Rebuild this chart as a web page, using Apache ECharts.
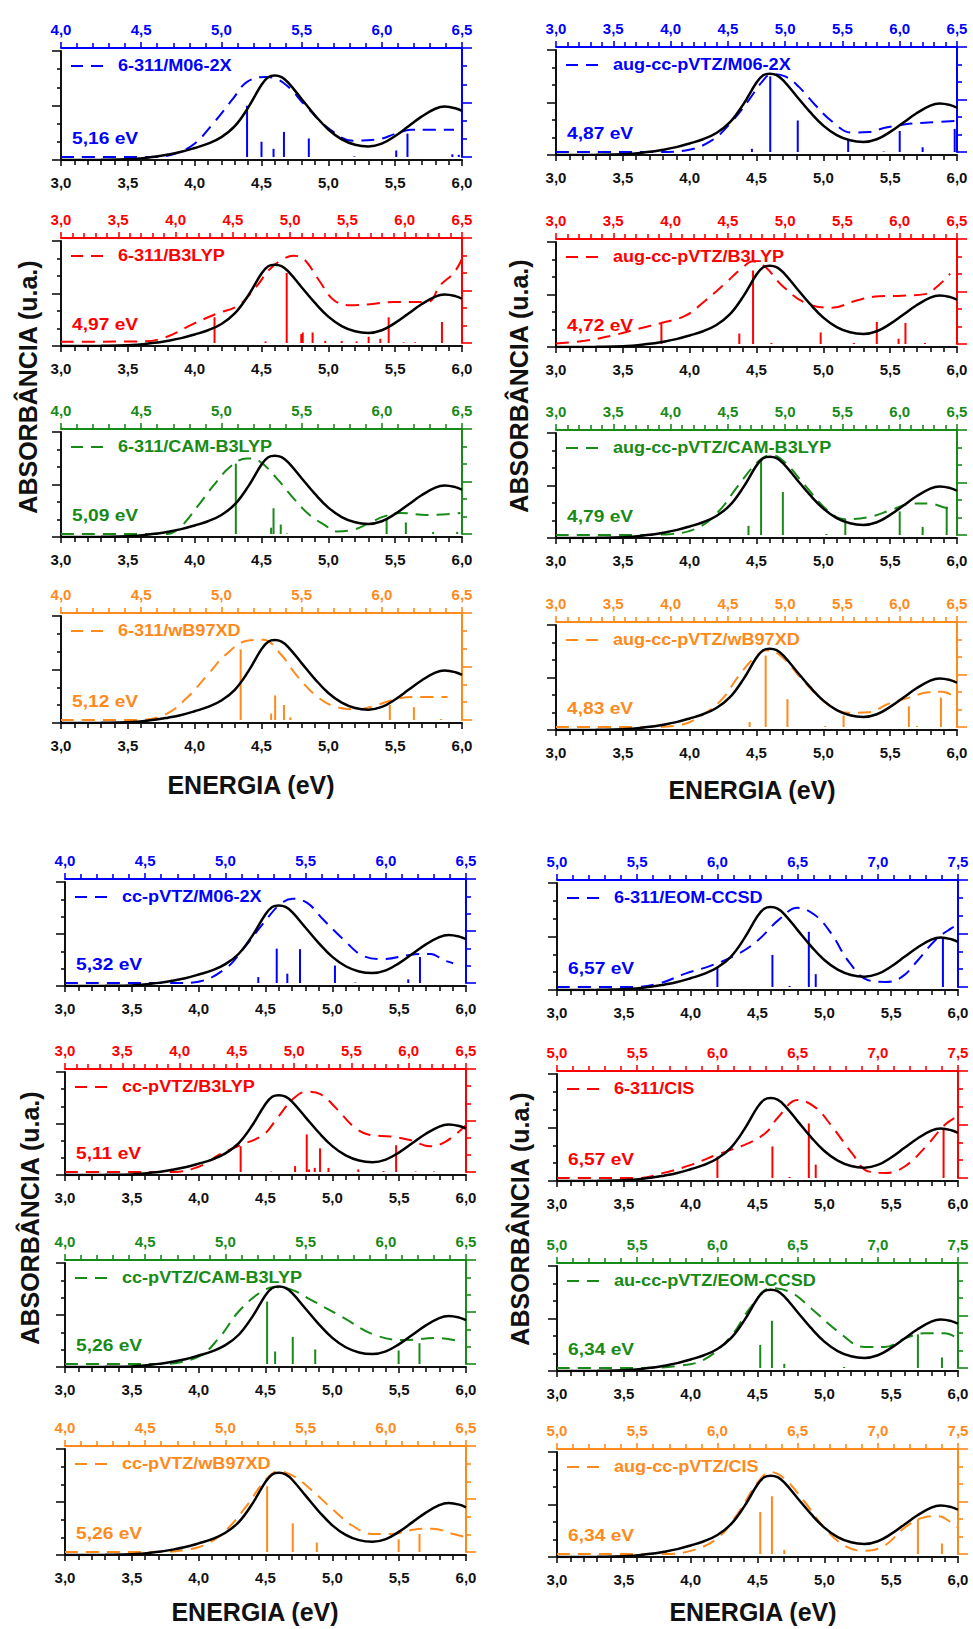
<!DOCTYPE html>
<html>
<head>
<meta charset="utf-8">
<title>Espectros de absorção</title>
<script src="https://cdn.jsdelivr.net/npm/echarts@6/dist/echarts.min.js"></script>
<style>
  html, body { margin: 0; padding: 0; background: #ffffff; }
  #chart { width: 973px; height: 1629px; }
</style>
</head>
<body>
<div id="chart"></div>
<script>
// ---------------------------------------------------------------
// Experimental spectrum (bottom energy axis, eV) — normalised absorbance
// ---------------------------------------------------------------
const EXP_ENERGY = [3.0, 3.3, 3.5, 3.7, 3.8, 3.9, 4.0, 4.1, 4.2, 4.3, 4.4, 4.5, 4.55, 4.6, 4.65, 4.7, 4.8, 4.9, 5.0, 5.1, 5.2, 5.3, 5.4, 5.5, 5.6, 5.7, 5.8, 5.87, 5.95, 6.0];
const EXP_ABS    = [0.0, 0.002, 0.006, 0.03, 0.05, 0.075, 0.11, 0.15, 0.21, 0.31, 0.48, 0.69, 0.76, 0.775, 0.76, 0.71, 0.56, 0.41, 0.28, 0.19, 0.14, 0.125, 0.15, 0.22, 0.31, 0.40, 0.47, 0.49, 0.475, 0.45];

// Energy range of the bottom (experimental) axis
const BOTTOM_RANGE = [3.0, 6.0];

// Energy ranges of the top (calculated) axes
const TOP_RANGE_3 = [3.0, 6.5];
const TOP_RANGE_4 = [4.0, 6.5];
const TOP_RANGE_5 = [5.0, 7.5];

// ---------------------------------------------------------------
// Calculated spectra: broadened curve [E, A] and oscillator sticks [E, f]
// (energies in the units of each panel's top axis)
// ---------------------------------------------------------------
const CURVE_6311_M062X = [[4.0,0],[4.55,0],[4.70,0.025],[4.83,0.12],[4.95,0.31],[5.075,0.54],[5.16,0.69],[5.28,0.735],[5.39,0.677],[5.53,0.46],[5.68,0.25],[5.82,0.15],[5.97,0.16],[6.09,0.215],[6.18,0.25],[6.26,0.25],[6.45,0.25]];
const STICKS_6311_M062X = [[5.16,0.47],[5.25,0.14],[5.325,0.075],[5.39,0.23],[5.545,0.17],[5.83,0.006],[6.09,0.06],[6.16,0.215],[6.44,0.025],[6.48,0.02]];

const CURVE_6311_B3LYP = [[3.0,0.012],[3.7,0.015],[3.9,0.05],[4.15,0.18],[4.36,0.28],[4.55,0.36],[4.7,0.53],[4.82,0.7],[4.94,0.8],[5.03,0.83],[5.12,0.8],[5.25,0.6],[5.38,0.41],[5.52,0.36],[5.7,0.37],[5.9,0.39],[6.2,0.39],[6.31,0.55],[6.43,0.67],[6.5,0.8]];
const STICKS_6311_B3LYP = [[4.34,0.245],[4.785,0.015],[4.97,0.667],[5.097,0.085],[5.11,0.1],[5.196,0.1],[5.306,0.02],[5.45,0.02],[5.58,0.015],[5.685,0.06],[5.787,0.04],[5.86,0.245],[5.99,0.006],[6.09,0.006],[6.325,0.2]];

const CURVE_6311_CAMB3LYP = [[4.0,0],[4.66,0],[4.74,0.06],[4.85,0.26],[4.95,0.46],[5.055,0.64],[5.16,0.72],[5.24,0.69],[5.345,0.53],[5.45,0.34],[5.55,0.18],[5.64,0.09],[5.72,0.025],[5.82,0.04],[5.91,0.095],[6.01,0.165],[6.115,0.2],[6.28,0.18],[6.49,0.2]];
const STICKS_6311_CAMB3LYP = [[5.09,0.67],[5.31,0.06],[5.325,0.245],[5.37,0.09],[5.41,0.005],[6.03,0.135],[6.15,0.11],[6.32,0.02],[6.47,0.02]];

const CURVE_6311_WB97XD = [[4.0,0],[4.49,0],[4.66,0.06],[4.78,0.2],[4.91,0.415],[5.03,0.615],[5.16,0.74],[5.26,0.75],[5.37,0.615],[5.47,0.415],[5.6,0.215],[5.72,0.12],[5.85,0.1],[5.97,0.14],[6.1,0.2],[6.22,0.215],[6.41,0.215]];
const STICKS_6311_WB97XD = [[5.12,0.66],[5.31,0.06],[5.335,0.23],[5.39,0.14],[5.43,0.025],[6.05,0.14],[6.2,0.12],[6.37,0.01]];

const CURVE_AUG_M062X = [[3.0,0],[3.89,0],[4.13,0.015],[4.36,0.11],[4.535,0.29],[4.68,0.49],[4.80,0.67],[4.88,0.74],[5.0,0.72],[5.12,0.62],[5.26,0.45],[5.41,0.29],[5.58,0.185],[5.73,0.19],[5.87,0.23],[6.05,0.265],[6.25,0.28],[6.49,0.295]];
const STICKS_AUG_M062X = [[4.71,0.03],[4.87,0.72],[5.11,0.3],[5.55,0.12],[5.86,0.005],[6.0,0.2],[6.2,0.045],[6.48,0.22]];

const CURVE_AUG_B3LYP = [[3.0,0.005],[3.25,0.03],[3.49,0.08],[3.72,0.145],[3.92,0.2],[4.13,0.27],[4.3,0.41],[4.48,0.58],[4.62,0.72],[4.72,0.787],[4.83,0.73],[4.97,0.56],[5.18,0.39],[5.41,0.345],[5.61,0.41],[5.82,0.455],[6.02,0.46],[6.22,0.475],[6.34,0.56],[6.44,0.67]];
const STICKS_AUG_B3LYP = [[3.92,0.19],[4.6,0.1],[4.72,0.7],[4.88,0.01],[5.31,0.11],[5.6,0.01],[5.8,0.21],[5.99,0.05],[6.05,0.2],[6.22,0.01]];

const CURVE_AUG_CAMB3LYP = [[3.0,0],[3.69,0],[4.01,0.01],[4.24,0.07],[4.42,0.225],[4.59,0.47],[4.77,0.705],[4.88,0.76],[5.0,0.69],[5.175,0.47],[5.38,0.225],[5.525,0.15],[5.73,0.17],[5.93,0.24],[6.11,0.3],[6.25,0.3],[6.4,0.26],[6.49,0.24]];
const STICKS_AUG_CAMB3LYP = [[4.68,0.087],[4.79,0.72],[4.98,0.41],[5.36,0.01],[5.525,0.15],[6.0,0.225],[6.2,0.077],[6.41,0.27]];

const CURVE_AUG_WB97XD = [[3.0,0],[3.84,0],[4.07,0.015],[4.27,0.11],[4.45,0.265],[4.59,0.48],[4.74,0.67],[4.84,0.73],[4.97,0.67],[5.15,0.45],[5.35,0.235],[5.55,0.135],[5.73,0.14],[5.9,0.22],[6.08,0.28],[6.25,0.33],[6.37,0.335],[6.49,0.28]];
const STICKS_AUG_WB97XD = [[4.69,0.047],[4.83,0.68],[5.02,0.265],[5.35,0.01],[5.51,0.11],[6.08,0.197],[6.15,0.01],[6.36,0.28]];

const CURVE_CC_M062X = [[4.0,0],[4.72,0],[4.84,0.015],[5.01,0.15],[5.11,0.325],[5.24,0.58],[5.34,0.755],[5.42,0.81],[5.51,0.77],[5.61,0.61],[5.735,0.42],[5.86,0.26],[5.985,0.23],[6.15,0.27],[6.28,0.28],[6.36,0.22],[6.42,0.19]];
const STICKS_CC_M062X = [[5.205,0.057],[5.32,0.33],[5.386,0.09],[5.465,0.325],[5.683,0.168],[5.81,0.005],[6.14,0.035],[6.213,0.25]];

const CURVE_CC_B3LYP = [[3.0,0],[3.6,0],[3.95,0.0],[4.18,0.057],[4.35,0.17],[4.53,0.26],[4.73,0.36],[4.85,0.52],[4.99,0.71],[5.11,0.78],[5.23,0.755],[5.37,0.615],[5.52,0.44],[5.66,0.36],[5.84,0.345],[6.01,0.31],[6.19,0.25],[6.33,0.3],[6.5,0.455]];
const STICKS_CC_B3LYP = [[4.533,0.25],[4.8,0.005],[5.008,0.057],[5.11,0.365],[5.13,0.025],[5.18,0.04],[5.226,0.23],[5.3,0.04],[5.56,0.025],[5.78,0.01],[5.89,0.26],[6.06,0.005],[6.22,0.005]];

const CURVE_CC_CAMB3LYP = [[4.0,0],[4.58,0],[4.83,0.07],[4.96,0.25],[5.08,0.5],[5.21,0.68],[5.31,0.74],[5.42,0.71],[5.53,0.62],[5.73,0.45],[5.93,0.28],[6.12,0.23],[6.32,0.25],[6.48,0.21]];
const STICKS_CC_CAMB3LYP = [[5.26,0.6],[5.31,0.12],[5.42,0.26],[5.56,0.14],[6.08,0.13],[6.21,0.2]];

const CURVE_CC_WB97XD = [[4.0,0],[4.58,0],[4.75,0.02],[4.875,0.07],[5.0,0.2],[5.125,0.42],[5.25,0.68],[5.33,0.76],[5.42,0.72],[5.54,0.58],[5.67,0.4],[5.79,0.25],[5.92,0.17],[6.04,0.17],[6.17,0.21],[6.29,0.22],[6.42,0.17],[6.5,0.14]];
const STICKS_CC_WB97XD = [[5.26,0.62],[5.42,0.27],[5.57,0.09],[6.08,0.12],[6.21,0.17]];

const CURVE_6311_EOMCCSD = [[5.0,0],[5.46,0],[5.63,0.03],[5.8,0.125],[5.96,0.2],[6.13,0.31],[6.255,0.44],[6.38,0.625],[6.5,0.74],[6.61,0.67],[6.71,0.5],[6.82,0.235],[6.94,0.063],[7.05,0.047],[7.15,0.094],[7.25,0.25],[7.36,0.44],[7.46,0.55],[7.5,0.58]];
const STICKS_6311_EOMCCSD = [[6.0,0.19],[6.343,0.3],[6.45,0.01],[6.57,0.516],[6.613,0.12],[7.406,0.45]];

const CURVE_6311_CIS = [[5.0,0],[5.5,0],[5.67,0.05],[5.84,0.125],[6.0,0.22],[6.17,0.31],[6.3,0.42],[6.38,0.57],[6.5,0.73],[6.61,0.66],[6.71,0.49],[6.84,0.23],[6.94,0.062],[7.05,0.047],[7.17,0.11],[7.3,0.295],[7.42,0.5],[7.5,0.58]];
const STICKS_6311_CIS = [[6.0,0.2],[6.343,0.295],[6.45,0.01],[6.57,0.51],[6.613,0.125],[7.41,0.465]];

const CURVE_AUG_EOMCCSD = [[5.0,0],[5.5,0],[5.75,0.02],[5.917,0.08],[6.083,0.3],[6.208,0.58],[6.333,0.76],[6.458,0.72],[6.583,0.57],[6.75,0.35],[6.917,0.2],[7.042,0.2],[7.167,0.28],[7.292,0.33],[7.417,0.33],[7.5,0.28]];
const STICKS_AUG_EOMCCSD = [[6.267,0.22],[6.34,0.45],[6.417,0.04],[6.79,0.01],[7.25,0.32],[7.4,0.1]];

const CURVE_AUG_CIS = [[5.0,0],[5.667,0],[5.833,0.03],[6.0,0.15],[6.125,0.38],[6.25,0.68],[6.333,0.78],[6.417,0.72],[6.542,0.5],[6.667,0.25],[6.792,0.08],[6.917,0.03],[7.042,0.08],[7.167,0.25],[7.292,0.35],[7.375,0.36],[7.458,0.3],[7.5,0.25]];
const STICKS_AUG_CIS = [[6.267,0.4],[6.34,0.55],[6.417,0.04],[7.25,0.33],[7.4,0.1]];

// ---------------------------------------------------------------
// Colours
// ---------------------------------------------------------------
const BLUE = '#0000ff';
const RED = '#ff0000';
const GREEN = '#178a17';
const ORANGE = '#ff8a1c';
const INK = '#111111';
const FAMILY = 'Liberation Sans';

// Panels: method label, top-axis range, colour, data
const PANELS = [
  { label: '6-311/M06-2X',          range: TOP_RANGE_4, color: BLUE,   curve: CURVE_6311_M062X,    sticks: STICKS_6311_M062X },
  { label: '6-311/B3LYP',           range: TOP_RANGE_3, color: RED,    curve: CURVE_6311_B3LYP,    sticks: STICKS_6311_B3LYP },
  { label: '6-311/CAM-B3LYP',       range: TOP_RANGE_4, color: GREEN,  curve: CURVE_6311_CAMB3LYP, sticks: STICKS_6311_CAMB3LYP },
  { label: '6-311/wB97XD',          range: TOP_RANGE_4, color: ORANGE, curve: CURVE_6311_WB97XD,   sticks: STICKS_6311_WB97XD },
  { label: 'aug-cc-pVTZ/M06-2X',    range: TOP_RANGE_3, color: BLUE,   curve: CURVE_AUG_M062X,     sticks: STICKS_AUG_M062X },
  { label: 'aug-cc-pVTZ/B3LYP',     range: TOP_RANGE_3, color: RED,    curve: CURVE_AUG_B3LYP,     sticks: STICKS_AUG_B3LYP },
  { label: 'aug-cc-pVTZ/CAM-B3LYP', range: TOP_RANGE_3, color: GREEN,  curve: CURVE_AUG_CAMB3LYP,  sticks: STICKS_AUG_CAMB3LYP },
  { label: 'aug-cc-pVTZ/wB97XD',    range: TOP_RANGE_3, color: ORANGE, curve: CURVE_AUG_WB97XD,    sticks: STICKS_AUG_WB97XD },
  { label: 'cc-pVTZ/M06-2X',        range: TOP_RANGE_4, color: BLUE,   curve: CURVE_CC_M062X,      sticks: STICKS_CC_M062X },
  { label: 'cc-pVTZ/B3LYP',         range: TOP_RANGE_3, color: RED,    curve: CURVE_CC_B3LYP,      sticks: STICKS_CC_B3LYP },
  { label: 'cc-pVTZ/CAM-B3LYP',     range: TOP_RANGE_4, color: GREEN,  curve: CURVE_CC_CAMB3LYP,   sticks: STICKS_CC_CAMB3LYP },
  { label: 'cc-pVTZ/wB97XD',        range: TOP_RANGE_4, color: ORANGE, curve: CURVE_CC_WB97XD,     sticks: STICKS_CC_WB97XD },
  { label: '6-311/EOM-CCSD',        range: TOP_RANGE_5, color: BLUE,   curve: CURVE_6311_EOMCCSD,  sticks: STICKS_6311_EOMCCSD },
  { label: '6-311/CIS',             range: TOP_RANGE_5, color: RED,    curve: CURVE_6311_CIS,      sticks: STICKS_6311_CIS },
  { label: 'au-cc-pVTZ/EOM-CCSD',   range: TOP_RANGE_5, color: GREEN,  curve: CURVE_AUG_EOMCCSD,   sticks: STICKS_AUG_EOMCCSD },
  { label: 'aug-cc-pVTZ/CIS',       range: TOP_RANGE_5, color: ORANGE, curve: CURVE_AUG_CIS,       sticks: STICKS_AUG_CIS }
];

// Plot boxes in pixels: [left, right, top, bottom]
const PANEL_BOX = [
  [61, 462, 48, 160], [61, 462, 238, 346], [61, 462, 429, 537], [61, 462, 613, 723],
  [556, 957, 47, 155], [556, 957, 239, 347], [556, 957, 430, 538], [556, 957, 622, 730],
  [65, 466, 879, 986], [65, 466, 1069, 1175], [65, 466, 1260, 1367], [65, 466, 1446, 1555],
  [557, 958, 880, 990], [557, 958, 1071, 1181], [557, 958, 1263, 1371], [557, 958, 1449, 1557]
];

// Axis titles: [x, y]
const X_TITLE_POS = [[251, 785], [752, 790], [255, 1612], [753, 1612]];
const Y_TITLE_POS = [[28, 387], [519, 386], [30, 1218], [520, 1219]];

const comma1 = v => v.toFixed(1).replace('.', ',');
const comma2 = v => v.toFixed(2).replace('.', ',');

const grid = [], xAxis = [], yAxis = [], series = [], graphic = [];

function energyAxis(gridIndex, position, range, color, margin) {
  return {
    gridIndex, type: 'value', position, min: range[0], max: range[1], interval: 0.5,
    splitLine: { show: false },
    axisLine: { show: true, onZero: false, lineStyle: { color, width: 2 } },
    axisTick: { show: true, inside: false, length: 6, lineStyle: { color, width: 1.6 } },
    minorTick: { show: true, splitNumber: 5, length: 5, lineStyle: { color, width: 1.6 } },
    axisLabel: {
      show: true, margin, formatter: comma1, color,
      fontFamily: FAMILY, fontWeight: 'bold', fontSize: 15,
      showMinLabel: true, showMaxLabel: true
    }
  };
}

function absAxis(gridIndex, position, color, major, minor) {
  return {
    gridIndex, type: 'value', position, min: 0, max: 1, interval: 0.5,
    splitLine: { show: false },
    axisLine: { show: true, onZero: false, lineStyle: { color, width: 2 } },
    axisTick: { show: true, inside: false, length: major, lineStyle: { color, width: 1.6 } },
    minorTick: { show: true, splitNumber: 3, length: minor, lineStyle: { color, width: 1.6 } },
    axisLabel: { show: false }
  };
}

function textStyle(text, fill, size, align) {
  return { text, fill, fontFamily: FAMILY, fontWeight: 'bold', fontSize: size,
           textAlign: align, textVerticalAlign: 'middle' };
}

const expData = EXP_ENERGY.map((e, k) => [e, EXP_ABS[k]]);

PANELS.forEach((p, i) => {
  const [x0, x1, T, B] = PANEL_BOX[i];
  const w = x1 - x0;
  const gk = grid.length;
  // experimental frame (bottom + left axes)
  grid.push({ left: x0, top: T + 3, width: w, height: B - T - 3, containLabel: false, outerBoundsMode: 'none' });
  // calculated frame (top + right axes)
  grid.push({ left: x0, top: T, width: w, height: B - T - 3, containLabel: false, outerBoundsMode: 'none' });
  const gc = gk + 1;

  xAxis.push(energyAxis(gk, 'bottom', BOTTOM_RANGE, INK, 15));
  xAxis.push(energyAxis(gc, 'top', p.range, p.color, 11));
  yAxis.push(absAxis(gk, 'left', INK, 9, 4));
  yAxis.push(absAxis(gc, 'right', p.color, 10, 5));

  // oscillator strengths as sticks
  series.push({
    type: 'custom', xAxisIndex: gc, yAxisIndex: gc, z: 2, silent: true,
    data: p.sticks,
    encode: { x: 0, y: 1 },
    renderItem: (params, api) => {
      const a = api.coord([api.value(0), 0]);
      const b = api.coord([api.value(0), api.value(1)]);
      return { type: 'line', shape: { x1: a[0], y1: a[1], x2: b[0], y2: b[1] },
               style: { stroke: p.color, lineWidth: 2 } };
    }
  });
  // broadened calculated spectrum
  series.push({
    type: 'line', xAxisIndex: gc, yAxisIndex: gc, z: 3, silent: true,
    data: p.curve, smooth: 0.4, showSymbol: false, symbol: 'none',
    lineStyle: { color: p.color, width: 2, type: [13, 8] }
  });
  // experimental spectrum
  series.push({
    type: 'line', xAxisIndex: gk, yAxisIndex: gk, z: 4, silent: true,
    data: expData, smooth: 0.4, showSymbol: false, symbol: 'none',
    lineStyle: { color: '#000000', width: 2.5 }
  });

  // legend sample + method name
  graphic.push({
    type: 'line', silent: true,
    shape: { x1: x0 + 10, y1: T + 18, x2: x0 + 42, y2: T + 18 },
    style: { stroke: p.color, lineWidth: 2, lineDash: [12, 8] }
  });
  graphic.push({
    type: 'text', silent: true, x: x0 + 57, y: T + 18, scaleX: 1.13,
    style: textStyle(p.label, p.color, 16, 'left')
  });
  // energy of the strongest transition
  const strongest = p.sticks.reduce((m, s) => (s[1] > m[1] ? s : m), p.sticks[0]);
  graphic.push({
    type: 'text', silent: true, x: x0 + 11, y: B - 22, scaleX: 1.13,
    style: textStyle(comma2(strongest[0]) + ' eV', p.color, 17, 'left')
  });
});

X_TITLE_POS.forEach(([x, y]) => {
  graphic.push({
    type: 'text', silent: true, x, y,
    style: textStyle('ENERGIA (eV)', INK, 25, 'center')
  });
});
Y_TITLE_POS.forEach(([x, y]) => {
  graphic.push({
    type: 'text', silent: true, x, y, rotation: Math.PI / 2,
    style: textStyle('ABSORBÂNCIA (u.a.)', INK, 25, 'center')
  });
});

const chart = echarts.init(document.getElementById('chart'), null, { renderer: 'svg', width: 973, height: 1629 });
chart.setOption({
  backgroundColor: '#ffffff',
  animation: false,
  tooltip: { show: false },
  grid, xAxis, yAxis, series, graphic
});
</script>
</body>
</html>
